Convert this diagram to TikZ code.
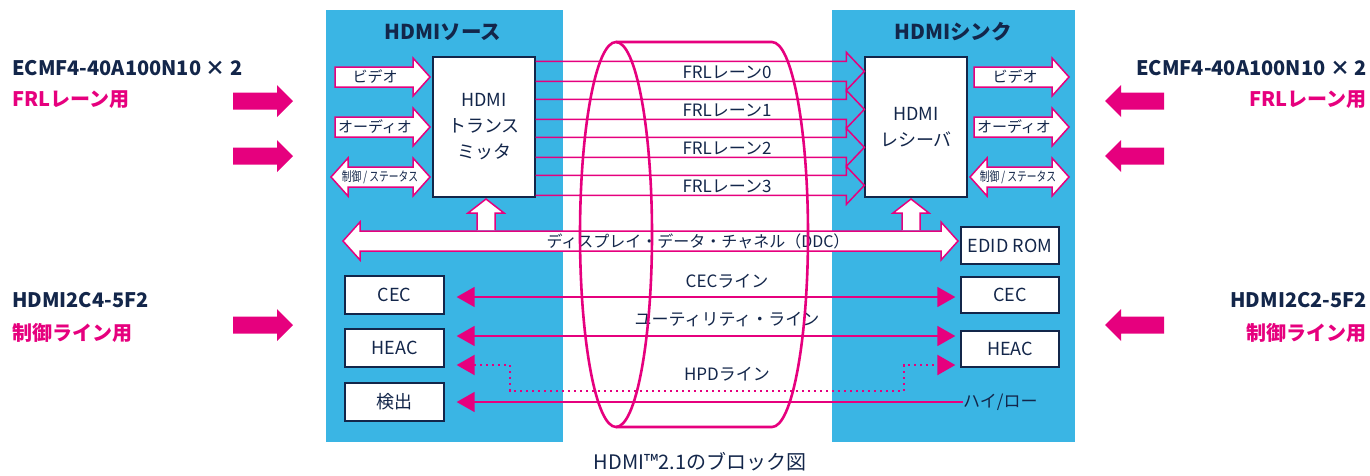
\documentclass[tikz,border=0pt]{standalone}
\usepackage{fontspec}
\setmainfont{Noto Sans CJK JP}
\usetikzlibrary{calc,arrows.meta}
\definecolor{stblue}{HTML}{3AB5E4}
\definecolor{stpink}{HTML}{E6007E}
\definecolor{stnavy}{HTML}{13264A}
% hollow arrows: (tail x:tip x:y) and (left tip:right tip:y)
\def\arrowR(#1:#2:#3){\draw[hollow] (#1,#3-10) -- (#2-17,#3-10) -- (#2-17,#3-19) -- (#2,#3) -- (#2-17,#3+19) -- (#2-17,#3+10) -- (#1,#3+10) -- cycle;}
\def\arrowLR(#1:#2:#3){\draw[hollow] (#1,#3) -- (#1+17,#3-19) -- (#1+17,#3-10) -- (#2-17,#3-10) -- (#2-17,#3-19) -- (#2,#3) -- (#2-17,#3+19) -- (#2-17,#3+10) -- (#1+17,#3+10) -- (#1+17,#3+19) -- cycle;}
\def\arrowU(#1:#2:#3){\draw[hollow] (#1-9,#3) -- (#1-9,#2+14) -- (#1-18,#2+14) -- (#1,#2) -- (#1+18,#2+14) -- (#1+9,#2+14) -- (#1+9,#3);}
% solid arrow: (tail x:tip x:y:head base x)
\def\blockarrow(#1:#2:#3:#4){\fill[stpink] (#1,#3-8.5) -- (#4,#3-8.5) -- (#4,#3-16) -- (#2,#3) -- (#4,#3+16) -- (#4,#3+8.5) -- (#1,#3+8.5) -- cycle;}

\tikzset{
  panel/.style={fill=stblue},
  box/.style={draw=stnavy, fill=white, line width=1.3pt, text=stnavy, inner sep=0, align=center, font=\fontsize{18}{26}\selectfont},
  hollow/.style={draw=stpink, fill=white, line width=1.5pt, line join=miter},
  lane/.style={draw=stpink, line width=1.5pt},
  cable/.style={draw=stpink, line width=2.6pt},
  sig/.style={draw=stpink, line width=1.6pt},
  sigtip/.tip={Triangle[length=18pt,width=20pt]},
  lbl/.style={text=stnavy, inner sep=0, font=\fontsize{17}{20}\selectfont},
  small/.style={text=stnavy, inner sep=0, font=\fontsize{15}{18}\selectfont},
  tiny/.style={text=stnavy, inner sep=0, font=\fontsize{13}{16}\selectfont},
  title/.style={text=stnavy, inner sep=0, font=\fontsize{20.5}{24}\selectfont\bfseries},
  part/.style={text=stnavy, inner sep=0, font=\fontsize{20}{22}\selectfont\bfseries},
  use/.style={text=stpink, inner sep=0, font=\fontsize{20}{22}\selectfont\bfseries},
}

\begin{document}
\begin{tikzpicture}[x=1pt,y=-1pt]
\useasboundingbox (0,0) rectangle (1370,475);

% source and sink
\fill[panel] (326,10) rectangle (563,442);
\fill[panel] (832,10) rectangle (1075,442);
\node[title] (srctitle) at (443,32) {HDMIソース};
\node[title] (snktitle) at (953,32) {HDMIシンク};

\node[box, minimum width=102, minimum height=140] (tx) at (484,127) {HDMI\\トランス\\ミッタ};
\node[box, minimum width=102, minimum height=140] (rx) at (916,127) {HDMI\\レシーバ};

\node[box, minimum width=98, minimum height=37] (edid) at (1010,245.5) {EDID ROM};
\node[box, minimum width=98, minimum height=36] (rcec) at (1010,295) {CEC};
\node[box, minimum width=98, minimum height=36] (rheac) at (1010,349) {HEAC};
\node[box, minimum width=99, minimum height=38] (lcec) at (394.5,295) {CEC};
\node[box, minimum width=99, minimum height=38] (lheac) at (394.5,348) {HEAC};
\node[box, minimum width=99, minimum height=38] (ldet) at (394.5,402) {検出};

% video / audio / control
\arrowR(335:430:77)
\arrowR(335:430:127)
\arrowLR(331:430:177)
\arrowR(974:1069:77)
\arrowR(974:1069:127)
\arrowLR(970:1069:177)
\node[small] (srcvid) at (375,77) {ビデオ};
\node[small] (srcaud) at (375,127) {オーディオ};
\node[tiny] (srcctl) at (380,177) {\scalebox{0.75}[1]{制御 / ステータス}};
\node[small] (snkvid) at (1015,77) {ビデオ};
\node[small] (snkaud) at (1014,127) {オーディオ};
\node[tiny] (snkctl) at (1018,177) {\scalebox{0.75}[1]{制御 / ステータス}};

% FRL lanes
\foreach \i [evaluate=\i as \a using 5+38*\i] in {0,...,3} {
  \draw[lane] ($(tx.north east)+(0,\a)$) -- ($(rx.north west)+(-18,\a)$) -- ++(0,-9)
    -- ($(rx.north west)+(0,\a+10)$) -- ($(rx.north west)+(-18,\a+29)$) -- ++(0,-9)
    -- ($(tx.north east)+(0,\a+20)$);
  \node[lbl] (frl\i) at (727,72+38*\i) {FRLレーン\i};
}

% DDC
\arrowLR(343:958:241)
\arrowU(486:199:230)
\arrowU(911:199:230)
\node[lbl, font=\fontsize{16}{20}\selectfont] (ddc) at (698,241) {ディスプレイ・データ・チャネル（DDC）};

% CEC, utility, HPD
\draw[sig, sigtip-sigtip] ($(lcec.east)+(12,2)$) -- ($(rcec.west)+(-5,2)$);
\draw[sig, sigtip-sigtip] ($(lheac.east)+(12,-12)$) -- ($(rheac.west)+(-5,-13)$);
\draw[sig, line width=2.2pt, dash pattern=on 2pt off 4pt, sigtip-sigtip] ($(lheac.east)+(12,17)$) -- ++(53,0) -- ++(0,26) -- ++(394,0) -- ++(0,-26) -- ($(rheac.west)+(-5,16)$);
\node[small, anchor=west, font=\fontsize{17}{20}\selectfont] (hilo) at (963,402) {ハイ/ロー};
\draw[sig, sigtip-] ($(ldet.east)+(12,0)$) -- (hilo.west);
\node[lbl] (ceclabel) at (727,281) {CECライン};
\node[lbl] (utllabel) at (727,319) {ユーティリティ・ライン};
\node[lbl] (hpdlabel) at (727,374) {HPDライン};

% cable
\draw[cable] (616,42) -- (772,42) arc [start angle=-90, end angle=90, x radius=36, y radius=192.5] -- (616,427);
\draw[cable] (616,234.5) ellipse [x radius=36, y radius=192.5];

% protection parts
\node[part, anchor=west] (ecmfl) at (12,68) {ECMF4-40A100N10 × 2};
\node[use, anchor=west] (frlusel) at (12,100) {FRLレーン用};
\node[part, anchor=west] (hdmil) at (12,300) {HDMI2C4-5F2};
\node[use, anchor=west] (ctlusel) at (12,333) {制御ライン用};
\node[part, anchor=east] (ecmfr) at (1367,68) {ECMF4-40A100N10 × 2};
\node[use, anchor=east] (frluser) at (1367,100) {FRLレーン用};
\node[part, anchor=east] (hdmir) at (1367,300) {HDMI2C2-5F2};
\node[use, anchor=east] (ctluser) at (1367,333) {制御ライン用};
\foreach \y in {101,156,325} {
  \blockarrow(233:293:\y:277)
  \blockarrow(1164:1105:\y:1121)
}

\node[lbl, font=\fontsize{20}{22}\selectfont] (caption) at (700,462) {HDMI™2.1のブロック図};
\end{tikzpicture}
\end{document}
